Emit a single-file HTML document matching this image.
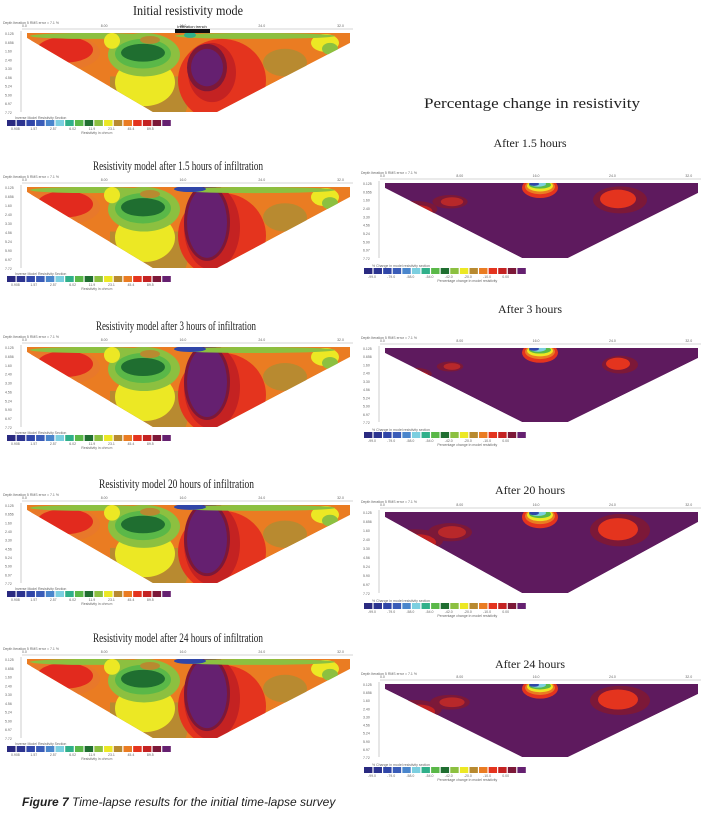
<!DOCTYPE html>
<html><head><meta charset="utf-8">
<style>
html,body{margin:0;padding:0;background:#fff;}
body{width:708px;height:817px;overflow:hidden;position:relative;font-family:"Liberation Serif",serif;}
svg{position:absolute;left:0;top:0;}
</style></head>
<body>
<svg id="fig" width="708" height="817" viewBox="0 0 708 817">
<text x="133" y="15" font-size="14" textLength="110" lengthAdjust="spacingAndGlyphs" font-family="Liberation Serif, serif" fill="#222">Initial  resistivity mode</text>
<text x="424" y="108" font-size="15" textLength="216" lengthAdjust="spacingAndGlyphs" font-family="Liberation Serif, serif" fill="#222">Percentage change in resistivity</text>
<text x="22" y="806" font-size="12" font-family="Liberation Sans, sans-serif" fill="#222"><tspan font-weight="bold" font-style="italic">Figure 7</tspan><tspan font-style="italic"> Time-lapse results for the initial time-lapse survey</tspan></text>
</svg>
<script>
const cbarColors=["#2a2a80","#2c3490","#3046a8","#3a5cb8","#4a86cc","#7ccfe0","#30b08a","#5ab848","#1f6e30","#8cc040","#ece824","#b88a30","#ea7c22","#e4341e","#c42222","#7c1838","#652070"];
const leftCbarLabels=["0.908","1.57","2.57","6.02","11.9","23.1","45.4","89.5"];
const rightCbarLabels=["-99.0","-79.0","-58.0","-54.0","-42.0","-20.0","-10.0","0.00"];
const depthLabels=["0.125","0.656","1.60","2.40","3.30","4.56","5.24","5.90","6.97","7.72"];
const topTicks=["0.0","8.00","16.0","24.0","32.0"];
const leftTitles=["","Resistivity model after 1.5 hours of infiltration","Resistivity model after 3 hours of infiltration","Resistivity model 20 hours of infiltration","Resistivity model after 24 hours of infiltration"];
const leftTitleX=[0,93,96,99,93];
const leftTitleW=[0,170,160,155,170];
const leftTops=[33,187,347,505,659];
const leftHeights=[79,81,80,78,79];
const rightTitles=["After  1.5 hours","After 3 hours","After 20 hours","After  24 hours"];
const rightTitleY=[147,313,494,668];
const rightTops=[183,348,512,684];
const rightHeights=[75,74,81,73];
const NS="http://www.w3.org/2000/svg";
const svg=document.getElementById('fig');
function el(tag,attrs,parent){const e=document.createElementNS(NS,tag);for(const k in attrs)e.setAttribute(k,attrs[k]);(parent||svg).appendChild(e);return e;}
function leftBlobs(k){
 const late=k>0;
 return [
  [60,20,40,18,"#e8782a"],
  [65,17,28,13,"#e22a1e"],
  [168,68,20,25,"#b88a30"],
  [145,50,30,24,"#ece824"],
  [144,22,36,22,"#8cc040"],
  [143,21,28,15,"#5ab848"],
  [143,20,22,9,"#1f6e30"],
  [222,48,44,42,"#e4341e"],
  [212,40,late?28:24,late?42:30,"#c42222"],
  [207,35,late?23:20,late?38:24,"#7c1838"],
  [207,35,late?20:16,late?35:19,"#652070"],
  [285,30,22,14,"#b88a30"],
  [325,10,14,9,"#ece824"],
  [330,16,8,6,"#8cc040"],
  [90,3,60,3,"#8cc040"],
  [255,3,80,3,"#8cc040"],
  [112,8,8,8,"#ece824"],
  [150,7,10,4,"#b88a30"],
  [190,2,late?16:6,3,late?"#3046a8":"#30b08a"]
 ];
}
function rightBlobs(k){
 const s=[[0.8,0.8,0.9],[0.6,0.6,0.6],[1,1,1],[0.95,0.9,1]][k];
 return [
  [415,28,28*s[0],11*s[0],"#7c1838"],
  [418,30,18*s[0],8*s[0],"#c42222"],
  [450,20,22*s[1],9*s[1],"#7c1838"],
  [452,20,14*s[1],6*s[1],"#b8282a"],
  [620,18,30*s[2],16*s[2],"#7c1838"],
  [618,17,20*s[2],11*s[2],"#e4341e"],
  [540,5,18,11,"#e4341e"],
  [540,4,15,8,"#ea7c22"],
  [540,3,13,6,"#ece824"],
  [540,2,11,4,"#5ab848"],
  [538,1,8,3,"#7ccfe0"],
  [534,1,5,2,"#3046a8"]
 ];
}
function axes(x0,x1,top,h,prefix,bottom){
 const g=el('g',{'font-family':'Liberation Sans, sans-serif','font-size':'3.5','fill':'#666'});
 
 
 el('text',{x:x0-24,y:top-9},g).textContent="Depth   Iteration 5 RMS error = 7.1 %";
 el('line',{x1:x0-5,y1:top-4,x2:x1+3,y2:top-4,stroke:'#aaa','stroke-width':0.6},g);
 topTicks.forEach((t,i)=>{const x=x0-5+i*(x1-x0)/4.1;el('text',{x:x,y:top-6},g).textContent=t;});
 el('line',{x1:x0-6,y1:top-2,x2:x0-6,y2:bottom,stroke:'#999','stroke-width':0.5},g);
 depthLabels.forEach((t,i)=>{const y=top+1+i*(bottom-top)/9;el('text',{x:x0-22,y:y+1},g).textContent=t;});
}
function cbar(x,y,w,labels,cap,prefix){
 const g=el('g',{});
 
 
 const bw=w/cbarColors.length;
 el('text',{x:x+8,y:y-1,'font-size':3.5,fill:'#666','font-family':'Liberation Sans, sans-serif'},g).textContent=cap[0];
 cbarColors.forEach((c,i)=>{el('rect',{x:x+i*bw,y:y,width:bw-1.2,height:6,fill:c},g);});
 labels.forEach((t,i)=>{el('text',{x:x+4+i*bw*2,y:y+10,'font-size':3.5,fill:'#666','font-family':'Liberation Sans, sans-serif'},g).textContent=t;});
 el('text',{x:x+w*0.45,y:y+14,'font-size':3.5,fill:'#666','font-family':'Liberation Sans, sans-serif'},g).textContent=cap[1];
}
leftTops.forEach((top,k)=>{
 const h=leftHeights[k];
 const bottom=top+h;
 if(leftTitles[k]){const t=el('text',{x:leftTitleX[k],y:top-17,'font-size':13,textLength:leftTitleW[k],lengthAdjust:'spacingAndGlyphs',fill:'#222'});t.textContent=leftTitles[k];}
 axes(27,350,top,h,'left-'+k,bottom);
 const id='lc'+k;
 const cp=el('clipPath',{id:id});
 const pts=`27,${top} 350,${top} 350,${top+10} 217,${bottom} 153,${bottom} 27,${top+5}`;
 el('polygon',{points:pts},cp);
 const g=el('g',{'clip-path':`url(#${id})`});
 
 
 el('polygon',{points:pts,fill:'#ea7c22'},g);
 el('rect',{x:110,y:top+h*0.55,width:70,height:h,fill:'#b88a30'},g);
 const sy=h/80;
 leftBlobs(k).forEach(b=>{el('ellipse',{cx:b[0],cy:top+b[1]*sy,rx:b[2],ry:b[3]*sy,fill:b[4]},g);});
 if(k===0){el('rect',{x:175,y:top-4,width:35,height:4,fill:'#111'});const t=el('text',{x:192,y:top-5,'font-size':4,'text-anchor':'middle','font-family':'Liberation Sans, sans-serif',fill:'#111'});t.textContent='Infiltration trench';}
 cbar(7,bottom+8,165,leftCbarLabels,["Inverse Model Resistivity Section","Resistivity in ohm.m"],'left-'+k);
});
rightTops.forEach((top,k)=>{
 const h=rightHeights[k];
 const bottom=top+h;
 const t=el('text',{x:530,y:rightTitleY[k],'font-size':12,'text-anchor':'middle',fill:'#222'});t.textContent=rightTitles[k];
 
 
 axes(385,698,top,h,'right-'+k,bottom);
 const id='rc'+k;
 const cp=el('clipPath',{id:id});
 const pts=`385,${top} 698,${top} 698,${top+10} 568,${bottom} 522,${bottom} 385,${top+5}`;
 el('polygon',{points:pts},cp);
 const g=el('g',{'clip-path':`url(#${id})`});
 
 
 el('polygon',{points:pts,fill:'#5e1a5e'},g);
 const sy=h/80;
 rightBlobs(k).forEach(b=>{el('ellipse',{cx:b[0],cy:top+b[1]*sy,rx:b[2],ry:b[3]*sy,fill:b[4]},g);});
 cbar(364,bottom+10,163,rightCbarLabels,["% Change in model resistivity section","Percentage change in model resistivity"],'right-'+k);
});
</script>
</body></html>
